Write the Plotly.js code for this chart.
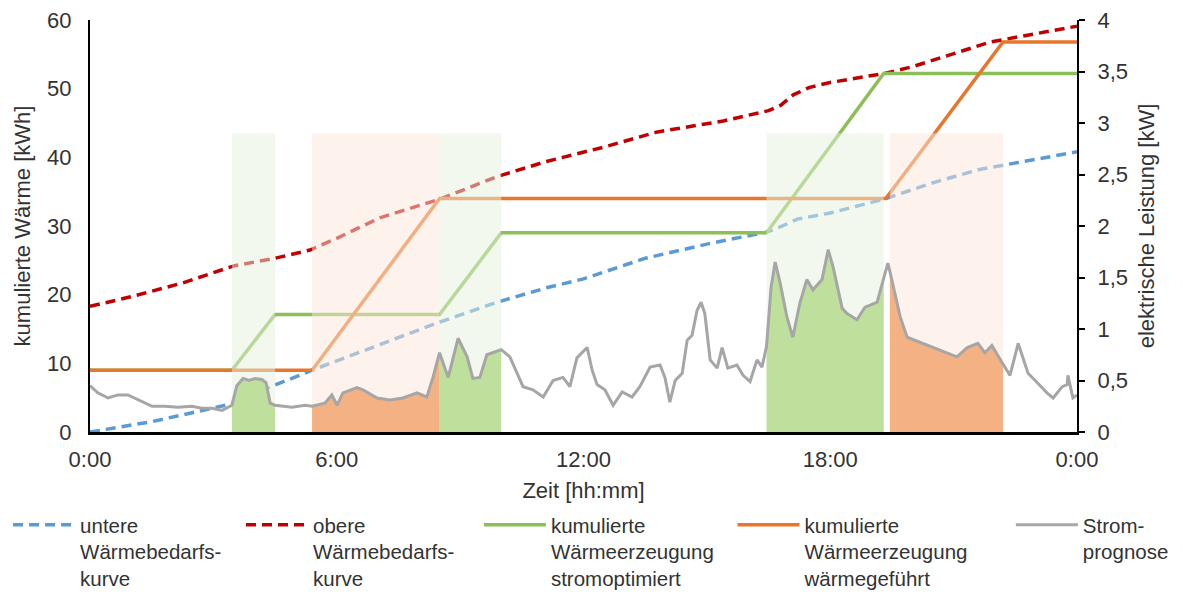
<!DOCTYPE html>
<html>
<head>
<meta charset="utf-8">
<script src="https://cdn.plot.ly/plotly-3.0.1.min.js"></script>
<style>
  html, body { margin: 0; padding: 0; background: #fff; }
  #chart { width: 1183px; height: 592px; }
</style>
</head>
<body>
<div id="chart"></div>
<script>
// Zeitachse der Stromprognose [h] und elektrische Leistung [kW]
const stundenPrognose = [
  0, 0.19, 0.44, 0.68, 0.92, 1.17, 1.51, 1.82, 2.14, 2.48, 2.72, 2.97, 3.21, 3.45,
  3.57, 3.72, 3.87, 4.01, 4.18, 4.28, 4.38, 4.5, 4.91, 5.23, 5.4, 5.71, 5.88, 6.01,
  6.15, 6.49, 6.64, 6.98, 7.29, 7.61, 7.95, 8.19, 8.34, 8.5, 8.58, 8.71, 8.95, 9.17,
  9.31, 9.48, 9.65, 9.8, 10.0, 10.21, 10.38, 10.53, 10.77, 11.02, 11.26, 11.5, 11.67,
  11.84, 12.09, 12.21, 12.33, 12.52, 12.72, 12.94, 13.18, 13.37, 13.62, 13.86, 13.98,
  14.1, 14.23, 14.4, 14.52, 14.64, 14.76, 14.86, 14.95, 15.08, 15.25, 15.37, 15.51,
  15.73, 15.88, 16.05, 16.22, 16.34, 16.45, 16.56, 16.66, 16.78, 16.95, 17.09, 17.26,
  17.43, 17.58, 17.8, 17.95, 18.07, 18.29, 18.41, 18.65, 18.84, 19.14, 19.3, 19.4,
  19.45, 19.57, 19.7, 19.87, 20.18, 20.5, 20.84, 21.08, 21.33, 21.59, 21.76, 21.93,
  22.2, 22.37, 22.57, 22.81, 23.03, 23.27, 23.42, 23.64, 23.76, 23.78, 23.9, 24
];
const stromPrognose = [
  0.45, 0.38, 0.33, 0.36, 0.36, 0.31, 0.25, 0.25, 0.24, 0.25, 0.23, 0.23, 0.21, 0.26,
  0.45, 0.52, 0.50, 0.52, 0.51, 0.48, 0.28, 0.26, 0.24, 0.26, 0.25, 0.28, 0.36, 0.26,
  0.38, 0.43, 0.41, 0.33, 0.31, 0.33, 0.38, 0.34, 0.53, 0.77, 0.67, 0.53, 0.91, 0.73,
  0.52, 0.53, 0.75, 0.77, 0.80, 0.73, 0.57, 0.44, 0.41, 0.34, 0.50, 0.53, 0.44,
  0.72, 0.82, 0.60, 0.46, 0.41, 0.26, 0.39, 0.34, 0.44, 0.63, 0.65, 0.53,
  0.29, 0.50, 0.57, 0.89, 0.94, 1.18, 1.26, 1.15, 0.70, 0.62, 0.82, 0.62,
  0.65, 0.55, 0.49, 0.70, 0.63, 0.83, 1.40, 1.65, 1.45, 1.11, 0.92, 1.25,
  1.48, 1.38, 1.48, 1.77, 1.60, 1.20, 1.15, 1.09, 1.21, 1.26, 1.50, 1.64,
  1.56, 1.36, 1.12, 0.92, 0.87, 0.82, 0.77, 0.73, 0.82, 0.86, 0.77, 0.84,
  0.66, 0.55, 0.86, 0.57, 0.48, 0.38, 0.33, 0.44, 0.46, 0.55, 0.33, 0.36
];

// untere Wärmebedarfskurve [kWh]
const untereStunden = [0, 1.5, 3.45, 4.4, 5.4, 7.1, 8.45, 9.9, 11.1, 12.0, 13.5, 15.1, 16.45, 16.8, 17.2, 18.0, 19.3, 20.5, 21.6, 24];
const untereWaerme  = [0, 1.5, 4.1, 6.6, 9.0, 12.9, 15.9, 18.9, 21.0, 22.3, 25.3, 27.5, 29.1, 29.9, 31.0, 31.9, 33.9, 36.3, 38.2, 40.8];

// obere Wärmebedarfskurve [kWh]
const obereStunden = [0, 1.0, 2.25, 3.5, 4.5, 5.35, 6.0, 7.05, 8.5, 9.9, 11.1, 12.5, 13.8, 15.4, 16.5, 16.8, 17.1, 17.5, 18.0, 19.3, 20.0, 21.9, 24];
const obereWaerme  = [18.3, 19.7, 21.7, 24.2, 25.3, 26.5, 28.2, 31.2, 33.9, 37.2, 39.4, 41.5, 43.7, 45.3, 46.8, 47.6, 49.1, 50.2, 50.9, 52.2, 53.2, 56.8, 59.1];

// kumulierte Wärmeerzeugung stromoptimiert [kWh]
const stromoptStunden = [0, 3.45, 4.5, 8.5, 10.0, 16.45, 19.3, 24];
const stromoptWaerme  = [9.0, 9.0, 17.1, 17.1, 29.0, 29.0, 52.2, 52.2];

// kumulierte Wärmeerzeugung wärmegeführt [kWh]
const waermegefStunden = [0, 5.4, 8.5, 19.35, 22.2, 24];
const waermegefWaerme  = [9.0, 9.0, 34.0, 34.0, 56.8, 56.8];

// Betriebsfenster [Beginn h, Ende h]
const fensterStromopt  = [[3.45, 4.5], [8.5, 10.0], [16.45, 19.3]];
const fensterWaermegef = [[5.4, 8.5], [19.45, 22.2]];

// Achsenbeschriftung
const xTickWerte = [0, 6, 12, 18, 24];
const xTickTexte = ['0:00', '6:00', '12:00', '18:00', '0:00'];

const FONT = '"Liberation Sans", Arial, sans-serif';
const FENSTER_OBEN = 2.9; // Höhe der Fensterhinterlegung in kW

const farben = {
  unten: '#5B9BD5',
  oben: '#C00000',
  stromopt: '#8CBF55',
  waermegef: '#E8762C',
  prognose: '#A6A6A6',
  fuellGruen: '#BEE09C',
  fuellOrange: '#F4B183',
  hinterGruen: 'rgba(229,241,221,0.5)',
  hinterOrange: 'rgba(251,231,217,0.5)'
};

const traces = [];

// kumulierte Kurven (linke Achse)
traces.push({
  x: untereStunden, y: untereWaerme, type: 'scatter', mode: 'lines',
  name: 'untere<br>Wärmebedarfs-<br>kurve', legend: 'legend',
  line: { color: farben.unten, width: 3.5, dash: '10px,6px' }, hoverinfo: 'skip'
});
traces.push({
  x: obereStunden, y: obereWaerme, type: 'scatter', mode: 'lines',
  name: 'obere<br>Wärmebedarfs-<br>kurve', legend: 'legend2',
  line: { color: farben.oben, width: 3.5, dash: '10px,6px' }, hoverinfo: 'skip'
});
traces.push({
  x: stromoptStunden, y: stromoptWaerme, type: 'scatter', mode: 'lines',
  name: 'kumulierte<br>Wärmeerzeugung<br>stromoptimiert', legend: 'legend3',
  line: { color: farben.stromopt, width: 3.5 }, hoverinfo: 'skip'
});
traces.push({
  x: waermegefStunden, y: waermegefWaerme, type: 'scatter', mode: 'lines',
  name: 'kumulierte<br>Wärmeerzeugung<br>wärmegeführt', legend: 'legend4',
  line: { color: farben.waermegef, width: 3.5 }, hoverinfo: 'skip'
});

// Hinterlegung der Betriebsfenster (rechte Achse, über den kumulierten Kurven)
function hinterlegung(fenster, farbe) {
  fenster.forEach(([a, b]) => {
    traces.push({
      x: [a, a, b, b, a], y: [0, FENSTER_OBEN, FENSTER_OBEN, 0, 0],
      type: 'scatter', mode: 'lines', fill: 'toself', fillcolor: farbe,
      line: { width: 0, color: 'rgba(0,0,0,0)' }, yaxis: 'y2',
      showlegend: false, hoverinfo: 'skip'
    });
  });
}
hinterlegung(fensterStromopt, farben.hinterGruen);
hinterlegung(fensterWaermegef, farben.hinterOrange);

// Flächen unter der Stromprognose innerhalb der Fenster
function flaeche(fenster, farbe) {
  fenster.forEach(([a, b]) => {
    const xs = [], ys = [];
    stundenPrognose.forEach((t, i) => {
      if (t >= a && t <= b) { xs.push(t); ys.push(stromPrognose[i]); }
    });
    traces.push({
      x: xs, y: ys, type: 'scatter', mode: 'lines', fill: 'tozeroy',
      fillcolor: farbe, line: { width: 0, color: farbe }, yaxis: 'y2',
      showlegend: false, hoverinfo: 'skip'
    });
  });
}
flaeche(fensterStromopt, farben.fuellGruen);
flaeche(fensterWaermegef, farben.fuellOrange);

// Stromprognose
traces.push({
  x: stundenPrognose, y: stromPrognose, type: 'scatter', mode: 'lines',
  name: 'Strom-<br>prognose', legend: 'legend5', yaxis: 'y2',
  line: { color: farben.prognose, width: 3 }, hoverinfo: 'skip'
});

function legende(xPaper) {
  return {
    x: xPaper, y: -0.177, xanchor: 'left', yanchor: 'top',
    orientation: 'v', valign: 'top', itemwidth: 62,
    bgcolor: 'rgba(0,0,0,0)', borderwidth: 0,
    font: { family: FONT, size: 20.5, color: '#333' },
    itemclick: false, itemdoubleclick: false
  };
}

const layout = {
  width: 1183, height: 592,
  margin: { l: 90, r: 106, t: 20, b: 160, autoexpand: false },
  paper_bgcolor: '#fff', plot_bgcolor: '#fff',
  separators: ',.',
  font: { family: FONT, size: 22, color: '#333' },
  showlegend: true,
  xaxis: {
    range: [0, 24], tickvals: xTickWerte, ticktext: xTickTexte,
    showline: true, linecolor: '#000', linewidth: 2.5, ticks: '',
    ticklabelstandoff: 6,
    showgrid: false, zeroline: false, fixedrange: true,
    title: { text: 'Zeit [hh:mm]', standoff: 12, font: { size: 22 } }
  },
  yaxis: {
    range: [0, 60], dtick: 10, showline: true, linecolor: '#000', linewidth: 2,
    ticks: '', ticklabelstandoff: 12,
    showgrid: false, zeroline: false, fixedrange: true,
    title: { text: 'kumulierte Wärme [kWh]', standoff: 10, font: { size: 22 } }
  },
  yaxis2: {
    overlaying: 'y', side: 'right', range: [0, 4], dtick: 0.5,
    showline: true, linecolor: '#000', linewidth: 2,
    ticks: 'outside', ticklen: 6, tickwidth: 2, tickcolor: '#000',
    ticklabelstandoff: 8,
    showgrid: false, zeroline: false, fixedrange: true,
    title: { text: 'elektrische Leistung [kW]', standoff: 12, font: { size: 22 } }
  },
  legend: legende(-0.083),
  legend2: legende(0.153),
  legend3: legende(0.394),
  legend4: legende(0.651),
  legend5: legende(0.933)
};

Plotly.newPlot('chart', traces, layout, { displayModeBar: false, staticPlot: true });
</script>
</body>
</html>
